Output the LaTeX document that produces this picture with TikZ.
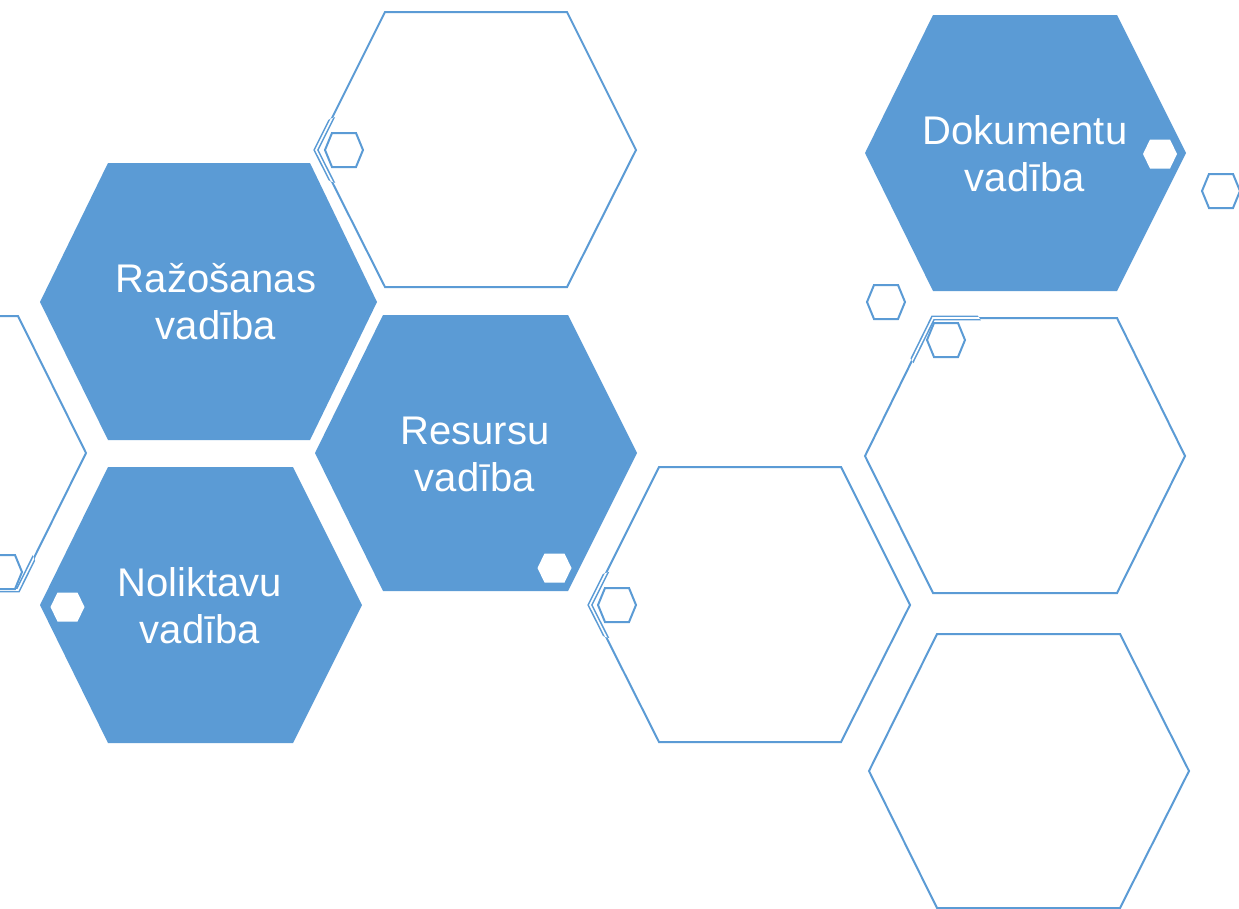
\documentclass[tikz,border=0pt]{standalone}
\usepackage{fontspec}
\setmainfont{Liberation Sans}
\definecolor{hexblue}{HTML}{5B9BD5}
\newcommand{\smallhex}[3][]{\path[#1, shift={(#2,#3)}] (-19,0)--(-12,-17)--(12,-17)--(19,0)--(12,17)--(-12,17)--cycle;}
\newcommand{\whitehex}[3][]{\path[#1, shift={(#2,#3)}] (-17,0)--(-10,-14.5)--(10,-14.5)--(17,0)--(10,14.5)--(-10,14.5)--cycle;}
\tikzset{
  fillhex/.style={fill=hexblue, draw=none},
  linehex/.style={draw=hexblue, line width=2pt, fill=white, line join=miter},
  dbl/.style={draw=hexblue, line width=1.6pt, double=white, double distance=1.6pt, line join=miter},
  smallline/.style={draw=hexblue, line width=2pt, fill=white},
  smallwhite/.style={fill=white, draw=none},
  hexlabel/.style={text=white, font=\fontsize{40}{47}\selectfont, align=center, inner sep=0pt}
}
\begin{document}
\begin{tikzpicture}[x=1pt,y=-1pt]
\useasboundingbox (0,0) rectangle (1239,908);
\fill[white] (0,0) rectangle (1239,908);
% outline big hexagons
\path[linehex] (316,150)--(385,12)--(567,12)--(636,150)--(567,287)--(385,287)--cycle;
\path[linehex] (-235,453)--(-167,316)--(18,316)--(86,453)--(18,590)--(-167,590)--cycle;
\path[linehex] (590,605)--(659,467)--(841,467)--(910,605)--(841,742)--(659,742)--cycle;
\path[linehex] (865,456)--(933,318)--(1117,318)--(1185,456)--(1117,593)--(933,593)--cycle;
\path[linehex] (869,771)--(937,634)--(1120,634)--(1189,771)--(1120,908)--(937,908)--cycle;
% doubled strokes near the small hexagons
\begin{scope}
\clip (344,150) circle (34);
\path[dbl] (316,150)--(385,12)--(567,12)--(636,150)--(567,287)--(385,287)--cycle;
\end{scope}
\begin{scope}
\clip (3,572) circle (34);
\path[dbl] (-235,453)--(-167,316)--(18,316)--(86,453)--(18,590)--(-167,590)--cycle;
\end{scope}
\begin{scope}
\clip (617,605) circle (34);
\path[dbl] (590,605)--(659,467)--(841,467)--(910,605)--(841,742)--(659,742)--cycle;
\end{scope}
\begin{scope}
\clip (946,340) circle (40);
\path[dbl] (865,456)--(933,318)--(1117,318)--(1185,456)--(1117,593)--(933,593)--cycle;
\end{scope}
% filled hexagons
\path[fillhex] (40,302)--(108,163)--(310,163)--(377,302)--(310,440)--(108,440)--cycle;
\path[fillhex] (315,453)--(383,315)--(568,315)--(637,453)--(568,591)--(383,591)--cycle;
\path[fillhex] (40,605)--(108,467)--(293,467)--(362,605)--(293,743)--(108,743)--cycle;
\path[fillhex] (865,153)--(933,15)--(1117,15)--(1186,153)--(1117,291)--(933,291)--cycle;
% small hexagons
\smallhex[smallline]{344}{150}
\smallhex[smallline]{3}{572}
\smallhex[smallline]{617}{605}
\smallhex[smallline]{1221}{191}
\smallhex[smallline]{886}{302}
\smallhex[smallline]{946}{340}
\whitehex[smallwhite]{67.5}{607}
\whitehex[smallwhite]{554.5}{568}
\whitehex[smallwhite]{1160}{154}
% labels
\node[hexlabel] (raz) at (216,302) {Ražošanas\\vadība};
\node[hexlabel] (res) at (475,454) {Resursu\\vadība};
\node[hexlabel] (nol) at (200,606) {Noliktavu\\vadība};
\node[hexlabel] (dok) at (1025,154) {Dokumentu\\vadība};
\end{tikzpicture}
\end{document}
